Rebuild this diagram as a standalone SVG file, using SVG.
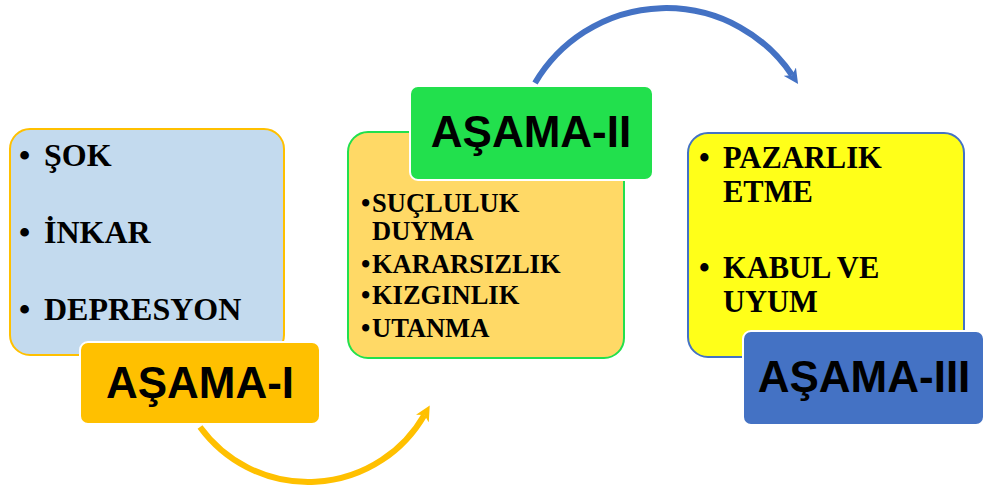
<svg xmlns="http://www.w3.org/2000/svg" width="985" height="491" viewBox="0 0 985 491">
<style>
.item{font-family:"Liberation Serif","Times New Roman",serif;font-weight:bold;fill:#000}
.lbl{font-family:"Liberation Sans",Arial,sans-serif;font-weight:bold;font-size:44px;fill:#000;text-anchor:middle}
.tag{stroke:#fff;stroke-width:2}
.conn{fill:none;stroke-width:6}
</style>
<defs>
<marker id="ah-y" viewBox="0 0 14 14" markerWidth="15" markerHeight="15" refX="4" refY="7" orient="auto" markerUnits="userSpaceOnUse"><path d="M0,0 L14,7 L0,14 L4,7 z" fill="#FFC000"/></marker>
<marker id="ah-b" viewBox="0 0 14 14" markerWidth="15" markerHeight="15" refX="4" refY="7" orient="auto" markerUnits="userSpaceOnUse"><path d="M0,0 L14,7 L0,14 L4,7 z" fill="#4472C4"/></marker>
</defs>
<rect width="985" height="491" fill="#fff"/>
<g id="connectors">
<path class="conn" stroke="#FFC000" d="M200,427 A134,134 0 0 0 424.4,414.9" marker-end="url(#ah-y)"/>
<path class="conn" stroke="#4472C4" d="M535,83 A152,152 0 0 1 792.1,75.2" marker-end="url(#ah-b)"/>
</g>
<g id="stage1">
<rect x="10" y="129" width="274" height="226" rx="20" fill="#C3DAEE" stroke="#FFC000" stroke-width="2"/>
<text class="item" font-size="32" x="19" y="166">•</text><text class="item" font-size="32" x="44" y="166">ŞOK</text>
<text class="item" font-size="32" x="19" y="243">•</text><text class="item" font-size="32" x="44" y="243">İNKAR</text>
<text class="item" font-size="32" x="19" y="320">•</text><text class="item" font-size="32" x="44" y="320">DEPRESYON</text>
</g>
<g id="label1">
<rect class="tag" x="80" y="342" width="240" height="82" rx="8" fill="#FFC000"/>
<text class="lbl" x="200" y="398">AŞAMA-I</text>
</g>
<g id="stage2">
<rect x="348" y="132" width="276" height="226" rx="20" fill="#FFD966" stroke="#22E04D" stroke-width="2"/>
<text class="item" font-size="26.5" x="361" y="212">•</text><text class="item" font-size="26.5" x="372" y="212">SUÇLULUK</text>
<text class="item" font-size="26.5" x="372" y="240">DUYMA</text>
<text class="item" font-size="26.5" x="361" y="273">•</text><text class="item" font-size="26.5" x="372" y="273">KARARSIZLIK</text>
<text class="item" font-size="26.5" x="361" y="304">•</text><text class="item" font-size="26.5" x="372" y="304">KIZGINLIK</text>
<text class="item" font-size="26.5" x="361" y="337">•</text><text class="item" font-size="26.5" x="372" y="337">UTANMA</text>
</g>
<g id="label2">
<rect class="tag" x="410" y="86" width="243" height="94" rx="8" fill="#22E04D"/>
<text class="lbl" x="531" y="147">AŞAMA-II</text>
</g>
<g id="stage3">
<rect x="688" y="133" width="276" height="224" rx="20" fill="#FFFF19" stroke="#4472C4" stroke-width="2"/>
<text class="item" font-size="30.5" x="699" y="168">•</text><text class="item" font-size="30.5" x="723" y="168">PAZARLIK</text>
<text class="item" font-size="30.5" x="723" y="202">ETME</text>
<text class="item" font-size="30.5" x="699" y="278">•</text><text class="item" font-size="30.5" x="723" y="278">KABUL VE</text>
<text class="item" font-size="30.5" x="723" y="312">UYUM</text>
</g>
<g id="label3">
<rect class="tag" x="743" y="331" width="241" height="94" rx="8" fill="#4472C4"/>
<text class="lbl" x="864" y="392">AŞAMA-III</text>
</g>
</svg>
